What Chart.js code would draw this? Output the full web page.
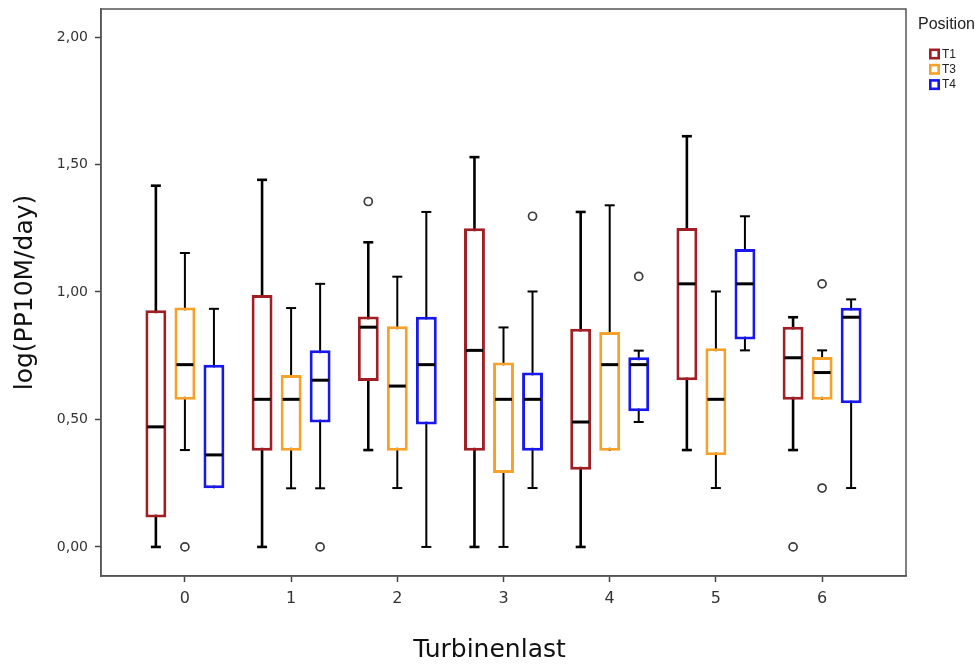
<!DOCTYPE html>
<html>
<head>
<meta charset="utf-8">
<script src="https://cdn.jsdelivr.net/npm/chart.js@4.4.1/dist/chart.umd.min.js"></script>
<style>
  html, body { margin: 0; padding: 0; background: #fff; }
  #wrap { width: 979px; height: 666px; }
</style>
</head>
<body>
<div id="wrap"><canvas id="c" width="979" height="666"></canvas></div>
<script>
// ---- data ----
const categories = ['0', '1', '2', '3', '4', '5', '6'];
const seriesNames = ['T1', 'T3', 'T4'];

const t1Min = [0.00, 0.00, 0.38, 0.00, 0.00, 0.38, 0.38];
const t1Q1  = [0.115, 0.377, 0.651, 0.377, 0.303, 0.654, 0.577];
const t1Med = [0.471, 0.579, 0.862, 0.771, 0.490, 1.032, 0.742];
const t1Q3  = [0.928, 0.988, 0.904, 1.250, 0.856, 1.251, 0.864];
const t1Max = [1.417, 1.440, 1.195, 1.529, 1.314, 1.611, 0.901];
const t1Out = [[], [], [1.355], [], [], [], [0.00]];

const t3Min = [0.380, 0.230, 0.231, 0.00, 0.377, 0.231, 0.577];
const t3Q1  = [0.577, 0.377, 0.377, 0.290, 0.377, 0.360, 0.577];
const t3Med = [0.715, 0.579, 0.631, 0.579, 0.715, 0.579, 0.684];
const t3Q3  = [0.939, 0.674, 0.866, 0.723, 0.843, 0.779, 0.745];
const t3Max = [1.153, 0.937, 1.060, 0.861, 1.340, 1.002, 0.771];
const t3Out = [[0.00], [], [], [], [], [], [1.032, 0.231]];

const t4Min = [0.230, 0.230, 0.00, 0.231, 0.490, 0.771, 0.231];
const t4Q1  = [0.230, 0.488, 0.480, 0.377, 0.532, 0.814, 0.564];
const t4Med = [0.361, 0.654, 0.715, 0.579, 0.715, 1.032, 0.901];
const t4Q3  = [0.715, 0.771, 0.903, 0.684, 0.744, 1.169, 0.938];
const t4Max = [0.934, 1.032, 1.314, 1.002, 0.770, 1.297, 0.971];
const t4Out = [[], [0.00], [], [1.297], [1.061], [], []];

const yTicks = [0, 0.5, 1, 1.5, 2];
const yTickLabels = ['0,00', '0,50', '1,00', '1,50', '2,00'];

// ---- styling ----
const colors = ['#a01e24', '#f5a12a', '#1818ec'];
const whiskerWidths = [2.6, 2, 2];

const stats = [
  { min: t1Min, q1: t1Q1, med: t1Med, q3: t1Q3, max: t1Max, out: t1Out },
  { min: t3Min, q1: t3Q1, med: t3Med, q3: t3Q3, max: t3Max, out: t3Out },
  { min: t4Min, q1: t4Q1, med: t4Med, q3: t4Q3, max: t4Max, out: t4Out }
];

const datasets = seriesNames.map((name, s) => ({
  label: name,
  data: categories.map((c, i) => ({ x: Number(c), y: [stats[s].q1[i], stats[s].q3[i]] })),
  backgroundColor: '#ffffff',
  borderColor: colors[s],
  borderWidth: 3,
  borderSkipped: false,
  categoryPercentage: 0.82,
  barPercentage: 0.72
}));

const boxPlugin = {
  id: 'boxParts',
  beforeDraw(chart) {
    const { ctx } = chart;
    ctx.save();
    ctx.fillStyle = '#fff';
    ctx.fillRect(0, 0, chart.width, chart.height);
    ctx.restore();
  },
  beforeDatasetsDraw(chart) {
    const { ctx } = chart;
    const y = chart.scales.y;
    ctx.save();
    ctx.strokeStyle = '#000';
    ctx.lineCap = 'butt';
    chart.data.datasets.forEach((ds, s) => {
      const meta = chart.getDatasetMeta(s);
      const st = stats[s];
      meta.data.forEach((bar, i) => {
        const x = bar.x;
        const yMin = y.getPixelForValue(st.min[i]);
        const yMax = y.getPixelForValue(st.max[i]);
        const yQ1 = y.getPixelForValue(st.q1[i]);
        const yQ3 = y.getPixelForValue(st.q3[i]);
        ctx.lineWidth = whiskerWidths[s];
        ctx.beginPath();
        ctx.moveTo(x, yMin); ctx.lineTo(x, yMax);
        ctx.stroke();
        const cap = 5;
        if (Math.abs(yMax - yQ3) > 1) {
          ctx.beginPath(); ctx.moveTo(x - cap, yMax); ctx.lineTo(x + cap, yMax); ctx.stroke();
        }
        if (Math.abs(yMin - yQ1) > 1) {
          ctx.beginPath(); ctx.moveTo(x - cap, yMin); ctx.lineTo(x + cap, yMin); ctx.stroke();
        }
      });
    });
    ctx.restore();
  },
  afterDatasetsDraw(chart) {
    const { ctx } = chart;
    const y = chart.scales.y;
    ctx.save();
    chart.data.datasets.forEach((ds, s) => {
      const meta = chart.getDatasetMeta(s);
      const st = stats[s];
      meta.data.forEach((bar, i) => {
        const x = bar.x, w = bar.width;
        const ym = y.getPixelForValue(st.med[i]);
        ctx.strokeStyle = '#000';
        ctx.lineWidth = 3;
        ctx.beginPath();
        ctx.moveTo(x - w / 2 + 2, ym); ctx.lineTo(x + w / 2 - 2, ym);
        ctx.stroke();
        st.out[i].forEach(v => {
          const yo = y.getPixelForValue(v);
          ctx.beginPath();
          ctx.arc(x, yo, 4, 0, Math.PI * 2);
          ctx.fillStyle = '#fff';
          ctx.fill();
          ctx.lineWidth = 1.7;
          ctx.strokeStyle = '#3a3a3a';
          ctx.stroke();
        });
      });
    });
    // frame
    const a = chart.chartArea;
    ctx.strokeStyle = '#555';
    ctx.lineWidth = 1.5;
    ctx.strokeRect(a.left, a.top, a.right - a.left, a.bottom - a.top);
    ctx.restore();
  },
  afterDraw(chart) {
    // legend
    const { ctx } = chart;
    const a = chart.chartArea;
    ctx.save();
    ctx.fillStyle = '#222';
    ctx.font = '16px "Liberation Sans", Arial, sans-serif';
    ctx.textBaseline = 'middle';
    ctx.textAlign = 'left';
    ctx.fillText('Position', a.right + 12, 25);
    ctx.font = '12px "Liberation Sans", Arial, sans-serif';
    chart.data.datasets.forEach((ds, s) => {
      const cy = 54 + s * 15.3;
      const bx = a.right + 23;
      ctx.fillStyle = '#fff';
      ctx.fillRect(bx, cy - 5.5, 11, 11);
      ctx.strokeStyle = ds.borderColor;
      ctx.lineWidth = 2.6;
      ctx.strokeRect(bx + 1.3, cy - 4.2, 8.4, 8.4);
      ctx.fillStyle = '#222';
      ctx.fillText(ds.label, bx + 13, cy + 0.5);
    });
    ctx.restore();
  }
};

new Chart(document.getElementById('c'), {
  type: 'bar',
  data: { datasets },
  options: {
    responsive: false,
    animation: false,
    devicePixelRatio: 1,
    layout: { padding: { top: 9, right: 0, left: 0, bottom: 0 } },
    plugins: {
      legend: { display: false },
      tooltip: { enabled: false },
      title: {
        display: true,
        position: 'bottom',
        text: 'Turbinenlast',
        color: '#111',
        font: { family: '"DejaVu Sans", sans-serif', size: 25, weight: 'normal', lineHeight: 1.2 },
        padding: { top: 0, bottom: 1 }
      }
    },
    scales: {
      x: {
        type: 'linear',
        min: -0.79,
        max: 6.79,
        offset: false,
        afterBuildTicks: (scale) => { scale.ticks = categories.map(c => ({ value: Number(c) })); },
        afterFit: (scale) => { scale.height = 59; scale.paddingLeft = 0; scale.paddingRight = 0; },
        ticks: {
          callback: (v) => categories[categories.indexOf(String(v))],
          color: '#333',
          font: { family: '"DejaVu Sans", sans-serif', size: 16 },
          padding: 7,
          maxRotation: 0
        },
        grid: { display: true, drawOnChartArea: false, offset: false, tickLength: 6, color: '#444', tickWidth: 1.5 },
        border: { display: true, color: '#555', width: 1.5 }
      },
      y: {
        min: -0.114,
        max: 2.11,
        afterBuildTicks: (scale) => { scale.ticks = yTicks.map(v => ({ value: v })); },
        afterFit: (scale) => { scale.width = 101; scale.paddingTop = 0; scale.paddingBottom = 0; },
        ticks: {
          callback: (v) => yTickLabels[yTicks.indexOf(v)],
          color: '#333',
          font: { family: '"DejaVu Sans", sans-serif', size: 14 },
          padding: 7
        },
        grid: { display: true, drawOnChartArea: false, tickLength: 6, color: '#444', tickWidth: 1.5 },
        border: { display: true, color: '#555', width: 1.5 },
        title: {
          display: true,
          text: 'log(PP10M/day)',
          color: '#111',
          font: { family: '"DejaVu Sans", sans-serif', size: 25, lineHeight: 1.2 },
          padding: { top: 10, bottom: 4 }
        }
      },
      legendSpace: {
        type: 'linear',
        position: 'right',
        display: true,
        afterFit: (scale) => { scale.width = 73; scale.paddingTop = 0; scale.paddingBottom = 0; },
        ticks: { display: false },
        grid: { display: false },
        border: { display: false }
      }
    }
  },
  plugins: [boxPlugin]
});
</script>
</body>
</html>
